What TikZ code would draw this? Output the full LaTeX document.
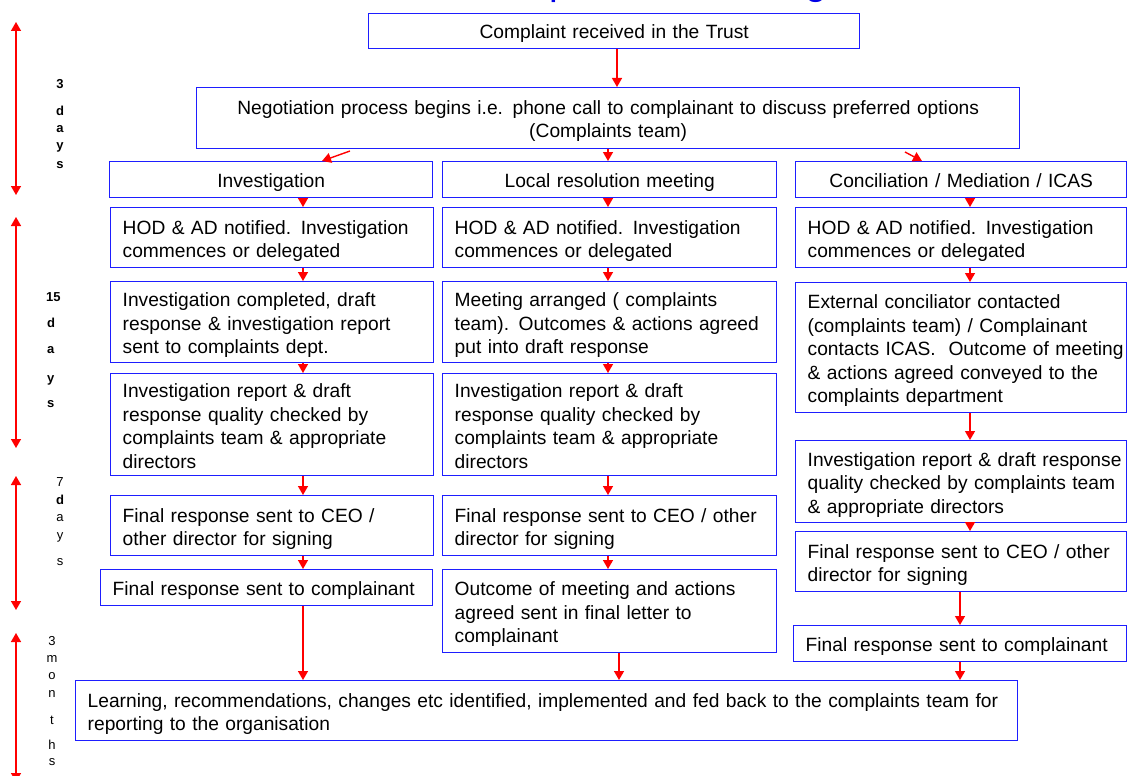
\documentclass[tikz,border=0pt]{standalone}
\usepackage{fontspec}
\setmainfont{Liberation Sans}
\usetikzlibrary{arrows.meta}
\definecolor{boxblue}{RGB}{30,30,255}
\definecolor{arrred}{RGB}{255,0,0}
\definecolor{titleblue}{RGB}{0,0,230}
\newcommand{\mylines}[1]{\noindent\raisebox{0pt}[\dimexpr\height+7pt\relax][\depth]{\begin{tabular}{@{}l@{}}#1\end{tabular}}}
\newcommand{\mycent}[1]{\raisebox{0pt}[\dimexpr\height+6pt\relax][\depth]{\begin{tabular}{@{}c@{}}#1\end{tabular}}}
\begin{document}
\begin{tikzpicture}[x=1pt,y=-1pt,
  box/.style={draw=boxblue, line width=1.4pt, fill=white, anchor=north west, inner xsep=12pt, inner ysep=0pt, font=\fontsize{19.2}{23.5}\selectfont, align=left},
  cbox/.style={box, align=center},
  arr/.style={draw=arrred, line width=1.4pt, -{Triangle[width=10pt,length=9pt]}},
  dbl/.style={draw=arrred, line width=1.4pt, {Triangle[width=10pt,length=9pt]}-{Triangle[width=10pt,length=9pt]}},
  lbl/.style={inner sep=0pt, font=\fontsize{13}{15}\selectfont},
  blbl/.style={inner sep=0pt, font=\fontsize{13}{15}\selectfont\bfseries}]
\useasboundingbox (0,0) rectangle (1127,776);
\fill[white] (0,0) rectangle (1127,776);
\begin{scope}
\clip (0,0) rectangle (1127,776);
\node[anchor=base west, inner sep=0pt, text=titleblue, font=\fontsize{39}{44}\selectfont] (ttl) at (467,-5) {Complaints Handling};
\end{scope}

% boxes
\node[cbox, text width=467pt, minimum height=35pt] (top) at (368,13) {\mycent{Complaint received in the Trust}};
\node[cbox, text width=799pt, minimum height=61pt] (neg) at (196,87) {\mycent{Negotiation process begins i.e. phone call to complainant to discuss preferred options\\(Complaints team)}};

\node[cbox, text width=299pt, minimum height=36pt] (inv) at (109,161) {\mycent{Investigation}};
\node[cbox, text width=310pt, minimum height=36pt] (lrm) at (442,161) {\mycent{Local resolution meeting}};
\node[cbox, text width=307pt, minimum height=36pt] (con) at (795,161) {\mycent{Conciliation / Mediation / ICAS}};

\node[box, text width=299pt, minimum height=60pt] (c1r2) at (110,207) {\mylines{HOD \& AD notified. Investigation\\commences or delegated}};
\node[box, text width=310pt, minimum height=60pt] (c2r2) at (442,207) {\mylines{HOD \& AD notified. Investigation\\commences or delegated}};
\node[box, text width=307pt, minimum height=60pt] (c3r2) at (795,207) {\mylines{HOD \& AD notified. Investigation\\commences or delegated}};

\node[box, text width=299pt, minimum height=81pt] (c1r3) at (110,281) {\mylines{Investigation completed, draft\\response \& investigation report\\sent to complaints dept.}};
\node[box, text width=310pt, minimum height=81pt] (c2r3) at (442,281) {\mylines{Meeting arranged ( complaints\\team). Outcomes \& actions agreed\\put into draft response}};
\node[box, text width=307pt, minimum height=130pt] (c3r3) at (795,282) {\mylines{External conciliator contacted\\(complaints team) / Complainant\\contacts ICAS.\ \ Outcome of meeting\\\& actions agreed conveyed to the\\complaints department}};

\node[box, text width=299pt, minimum height=102pt] (c1r4) at (110,373) {\mylines{Investigation report \& draft\\response quality checked by\\complaints team \& appropriate\\directors}};
\node[box, text width=310pt, minimum height=102pt] (c2r4) at (442,373) {\mylines{Investigation report \& draft\\response quality checked by\\complaints team \& appropriate\\directors}};
\node[box, text width=307pt, minimum height=82pt] (c3r4) at (795,440) {\mylines{Investigation report \& draft response\\quality checked by complaints team\\\& appropriate directors}};

\node[box, text width=299pt, minimum height=60pt] (c1r5) at (110,495) {\mylines{Final response sent to CEO /\\other director for signing}};
\node[box, text width=310pt, minimum height=60pt] (c2r5) at (442,495) {\mylines{Final response sent to CEO / other\\director for signing}};
\node[box, text width=307pt, minimum height=60pt] (c3r5) at (795,531) {\mylines{Final response sent to CEO / other\\director for signing}};

\node[box, text width=308pt, minimum height=36pt] (c1r6) at (100,569) {\mylines{Final response sent to complainant}};
\node[box, text width=310pt, minimum height=83pt] (c2r6) at (442,569) {\mylines{Outcome of meeting and actions\\agreed sent in final letter to\\complainant}};
\node[box, text width=309pt, minimum height=36pt] (c3r6) at (793,625) {\mylines{Final response sent to complainant}};

\node[box, text width=918pt, minimum height=60pt] (fin) at (75,680) {\mylines{Learning, recommendations, changes etc identified, implemented and fed back to the complaints team for\\reporting to the organisation}};

% guide coordinates
\coordinate (xt) at (617,0);
\coordinate (xa) at (303,0);
\coordinate (xb) at (608,0);
\coordinate (xc) at (970,0);
\coordinate (xd) at (960,0);
\coordinate (xe) at (619,0);
\coordinate (s1) at (350,151);
\coordinate (t1) at (322,0);
\coordinate (s2) at (905,152);
\coordinate (t2) at (922,0);

% connectors
\draw[arr] (top.south -| xt) -- (neg.north -| xt);
\draw[arr] (s1) -- (inv.north -| t1);
\draw[arr] (neg.south -| xb) -- (lrm.north -| xb);
\draw[arr] (s2) -- (con.north -| t2);

\draw[arr] (inv.south -| xa) -- (c1r2.north -| xa);
\draw[arr] (c1r2.south -| xa) -- (c1r3.north -| xa);
\draw[arr] (c1r3.south -| xa) -- (c1r4.north -| xa);
\draw[arr] (c1r4.south -| xa) -- (c1r5.north -| xa);
\draw[arr] (c1r5.south -| xa) -- (c1r6.north -| xa);
\draw[arr] (c1r6.south -| xa) -- (fin.north -| xa);

\draw[arr] (lrm.south -| xb) -- (c2r2.north -| xb);
\draw[arr] (c2r2.south -| xb) -- (c2r3.north -| xb);
\draw[arr] (c2r3.south -| xb) -- (c2r4.north -| xb);
\draw[arr] (c2r4.south -| xb) -- (c2r5.north -| xb);
\draw[arr] (c2r5.south -| xb) -- (c2r6.north -| xb);
\draw[arr] (c2r6.south -| xe) -- (fin.north -| xe);

\draw[arr] (con.south -| xc) -- (c3r2.north -| xc);
\draw[arr] (c3r2.south -| xc) -- (c3r3.north -| xc);
\draw[arr] (c3r3.south -| xc) -- (c3r4.north -| xc);
\draw[arr] (c3r4.south -| xc) -- (c3r5.north -| xc);
\draw[arr] (c3r5.south -| xd) -- (c3r6.north -| xd);
\draw[arr] (c3r6.south -| xd) -- (fin.north -| xd);

% timeline
\coordinate (p1a) at (16,22);  \coordinate (p1b) at (16,195);
\coordinate (p2a) at (16,217); \coordinate (p2b) at (16,448);
\coordinate (p3a) at (16,476); \coordinate (p3b) at (16,610);
\coordinate (p4a) at (16,633); \coordinate (p4b) at (16,782);
\draw[dbl] (p1a) -- (p1b);
\draw[dbl] (p2a) -- (p2b);
\draw[dbl] (p3a) -- (p3b);
\draw[dbl] (p4a) -- (p4b);

\node[blbl] (a1) at (60,84) {3};
\node[blbl] (a2) at (60,111) {d};
\node[blbl] (a3) at (60,129) {a};
\node[blbl] (a4) at (60,147) {y};
\node[blbl] (a5) at (60,165) {s};

\node[blbl, anchor=west] (b1) at (46,297) {15};
\node[blbl, anchor=west] (b2) at (47,323) {d};
\node[blbl, anchor=west] (b3) at (47,350) {a};
\node[blbl, anchor=west] (b4) at (47,380) {y};
\node[blbl, anchor=west] (b5) at (47,404) {s};

\node[lbl] (c1) at (60,482) {7};
\node[blbl] (c2) at (60,500) {d};
\node[lbl] (c3) at (60,518) {a};
\node[lbl] (c4) at (60,537) {y};
\node[lbl] (c5) at (60,562) {s};

\node[lbl] (d1) at (52,641) {3};
\node[lbl] (d2) at (52,659) {m};
\node[lbl] (d3) at (52,676) {o};
\node[lbl] (d4) at (52,694) {n};
\node[lbl] (d5) at (52,720) {t};
\node[lbl] (d6) at (52,745) {h};
\node[lbl] (d7) at (52,762) {s};
\end{tikzpicture}
\end{document}
